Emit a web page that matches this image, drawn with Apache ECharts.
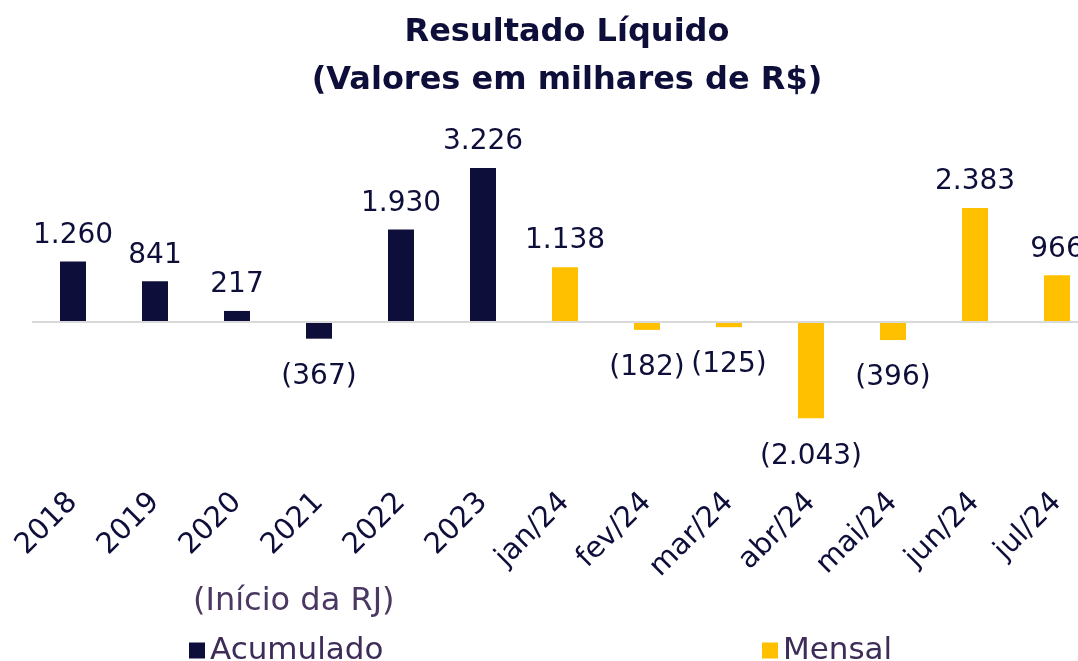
<!DOCTYPE html>
<html>
<head>
<meta charset="utf-8">
<script src="https://cdn.jsdelivr.net/npm/echarts@6/dist/echarts.min.js"></script>
<style>
  html, body { margin: 0; padding: 0; background: #fff; }
  #main { width: 1078px; height: 661px; }
</style>
</head>
<body>
<div id="main"></div>
<script>
let categorias = ['2018', '2019', '2020', '2021', '2022', '2023', 'jan/24', 'fev/24', 'mar/24', 'abr/24', 'mai/24', 'jun/24', 'jul/24']
let acumulado = [1260, 841, 217, -367, 1930, 3226, null, null, null, null, null, null, null]
let mensal = [null, null, null, null, null, null, 1138, -182, -125, -2043, -396, 2383, 966]

const fonte = '"DejaVu Sans", sans-serif'
const azul = '#0e0e3a'
const amarelo = '#ffc000'

function formata(v) {
  let s = Math.abs(v).toString().replace(/\B(?=(\d{3})+(?!\d))/g, '.')
  return v < 0 ? '(' + s + ')' : s
}

function montaSerie(valores) {
  return valores.map(v => {
    if (v === null) return null
    return {
      value: v,
      label: { position: v < 0 ? 'bottom' : 'top', distance: v < 0 ? 24 : 12 }
    }
  })
}

let chart = echarts.init(document.getElementById('main'))
let option = {
  backgroundColor: '#fff',
  title: {
    text: 'Resultado Líquido\n(Valores em milhares de R$)',
    left: 562,
    textAlign: 'center',
    top: 4,
    textStyle: { fontFamily: fonte, fontWeight: 'bold', fontSize: 32, lineHeight: 48, color: azul }
  },
  legend: [
    {
      data: ['Acumulado'], left: 184, top: 630, icon: 'rect', itemWidth: 16, itemHeight: 16, itemGap: 6,
      textStyle: { fontFamily: fonte, fontSize: 31, color: '#3d2c57' }
    },
    {
      data: ['Mensal'], left: 757, top: 630, icon: 'rect', itemWidth: 16, itemHeight: 16, itemGap: 12,
      textStyle: { fontFamily: fonte, fontSize: 31, color: '#3d2c57' }
    }
  ],
  graphic: [
    {
      type: 'text', left: 193, top: 586,
      style: { text: '(Início da RJ)', fontFamily: fonte, fontSize: 32, fill: '#4a3863' }
    }
  ],
  grid: { left: 32, width: 1066, top: 155, bottom: 221, outerBoundsMode: 'none', containLabel: false },
  xAxis: {
    type: 'category',
    data: categorias,
    axisLine: { show: false, onZero: false },
    axisTick: { show: false },
    axisLabel: { rotate: 45, margin: 58, interval: 0, fontFamily: fonte, fontSize: 29, color: azul }
  },
  yAxis: {
    type: 'value',
    min: -2500,
    max: 3500,
    show: false,
    splitLine: { show: false }
  },
  series: [
    {
      name: 'Acumulado',
      type: 'bar',
      barWidth: 26,
      barGap: '-100%',
      itemStyle: { color: azul },
      label: { show: true, fontFamily: fonte, fontSize: 28, color: azul, formatter: p => formata(p.value) },
      data: montaSerie(acumulado),
      markLine: {
        silent: true, symbol: 'none', label: { show: false },
        lineStyle: { color: '#d9d9d9', width: 2, type: 'solid' },
        data: [{ yAxis: 0 }]
      },
      z: 3
    },
    {
      name: 'Mensal',
      type: 'bar',
      barWidth: 26,
      barGap: '-100%',
      itemStyle: { color: amarelo },
      label: { show: true, fontFamily: fonte, fontSize: 28, color: azul, formatter: p => formata(p.value) },
      data: montaSerie(mensal),
      z: 3
    }
  ]
}
chart.setOption(option)
</script>
</body>
</html>
